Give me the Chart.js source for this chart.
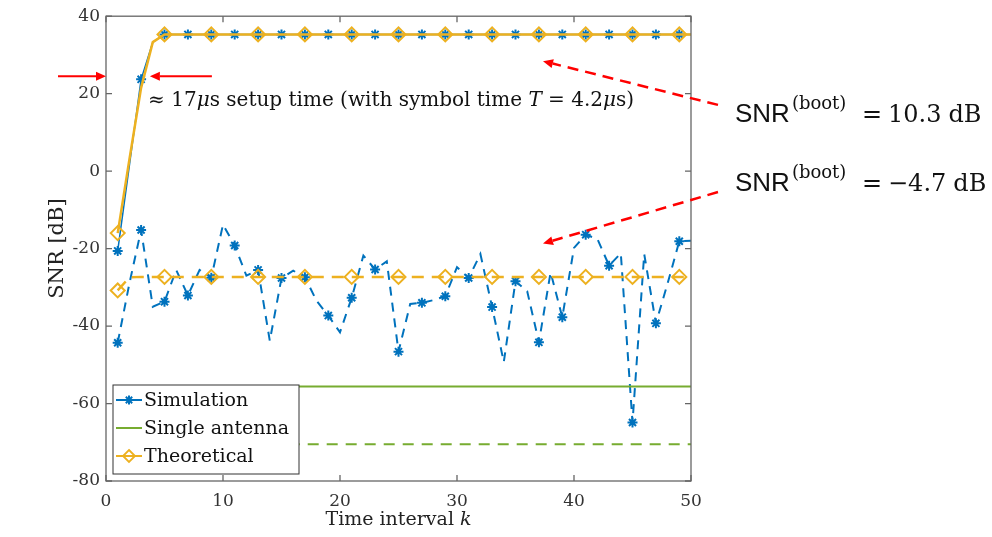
<!DOCTYPE html>
<html>
<head>
<meta charset="utf-8">
<script src="https://cdn.jsdelivr.net/npm/chart.js@4.4.1/dist/chart.umd.min.js"></script>
<style>
  html, body { margin: 0; padding: 0; background: #fff; }
</style>
</head>
<body>
<canvas id="snrChart" width="992" height="537"></canvas>
<script>
// time intervals
var kValues = [1, 2, 3, 4, 5, 6, 7, 8, 9, 10, 11, 12, 13, 14, 15, 16, 17, 18, 19, 20,
  21, 22, 23, 24, 25, 26, 27, 28, 29, 30, 31, 32, 33, 34, 35, 36, 37, 38, 39, 40,
  41, 42, 43, 44, 45, 46, 47, 48, 49, 50];

// SNR(boot) = 10.3 dB
var simHigh = [-20.6, 1.5, 23.7, 33.3, 35.3, 35.3, 35.3, 35.3, 35.3, 35.3,
  35.3, 35.3, 35.3, 35.3, 35.3, 35.3, 35.3, 35.3, 35.3, 35.3,
  35.3, 35.3, 35.3, 35.3, 35.3, 35.3, 35.3, 35.3, 35.3, 35.3,
  35.3, 35.3, 35.3, 35.3, 35.3, 35.3, 35.3, 35.3, 35.3, 35.3,
  35.3, 35.3, 35.3, 35.3, 35.3, 35.3, 35.3, 35.3, 35.3, 35.3];
var theoHigh = [-16, 3, 21.5, 33.3, 35.3, 35.3, 35.3, 35.3, 35.3, 35.3,
  35.3, 35.3, 35.3, 35.3, 35.3, 35.3, 35.3, 35.3, 35.3, 35.3,
  35.3, 35.3, 35.3, 35.3, 35.3, 35.3, 35.3, 35.3, 35.3, 35.3,
  35.3, 35.3, 35.3, 35.3, 35.3, 35.3, 35.3, 35.3, 35.3, 35.3,
  35.3, 35.3, 35.3, 35.3, 35.3, 35.3, 35.3, 35.3, 35.3, 35.3];

// SNR(boot) = -4.7 dB
var simLow = [-44.3, -29, -15.2, -35, -33.7, -25.5, -32.1, -25.5, -27.5, -13.8,
  -19.2, -27, -25.5, -43.8, -27.6, -25.7, -27.4, -33.5, -37.3, -41.6,
  -32.7, -21.8, -25.4, -23.3, -46.6, -34.3, -34, -33.3, -32.3, -24.8,
  -27.6, -21.4, -35.1, -49.3, -28.4, -31, -44.2, -26.1, -37.7, -19.8,
  -16.4, -17.5, -24.4, -21.2, -64.9, -21.4, -39.3, -29, -18.1, -18];
var theoLow = [-30.8, -27.4, -27.3, -27.3, -27.3, -27.3, -27.3, -27.3, -27.3, -27.3,
  -27.3, -27.3, -27.3, -27.3, -27.3, -27.3, -27.3, -27.3, -27.3, -27.3,
  -27.3, -27.3, -27.3, -27.3, -27.3, -27.3, -27.3, -27.3, -27.3, -27.3,
  -27.3, -27.3, -27.3, -27.3, -27.3, -27.3, -27.3, -27.3, -27.3, -27.3,
  -27.3, -27.3, -27.3, -27.3, -27.3, -27.3, -27.3, -27.3, -27.3, -27.3];

// single antenna levels
var singleK = [1, 50];
var singleHigh = [-55.6, -55.6];
var singleLow = [-70.5, -70.5];

var xTicks = [0, 10, 20, 30, 40, 50];
var yTicks = [-80, -60, -40, -20, 0, 20, 40];

var BLUE = '#0072BD', YELLOW = '#EDB120', GREEN = '#77AC30', RED = '#FF0000';
var SERIF = '"DejaVu Serif", serif';

function pts(xs, ys) {
  return xs.map(function (x, i) { return { x: x, y: ys[i] }; });
}
function oddMarks(ctx) { return ctx.raw && ctx.raw.x % 2 === 1 ? 5 : 0; }
function everyFourth(ctx) { return ctx.raw && (ctx.raw.x - 1) % 4 === 0 ? 7 : 0; }

// box + inward ticks like matlab
var framePlugin = {
  id: 'frame',
  afterDatasetsDraw: function (chart) {
    var c = chart.ctx, a = chart.chartArea, xs = chart.scales.x, ys = chart.scales.y;
    c.save();
    c.strokeStyle = '#666';
    c.lineWidth = 1.3;
    c.strokeRect(a.left, a.top, a.right - a.left, a.bottom - a.top);
    c.beginPath();
    xTicks.forEach(function (v) {
      var px = xs.getPixelForValue(v);
      c.moveTo(px, a.bottom); c.lineTo(px, a.bottom - 6);
      c.moveTo(px, a.top); c.lineTo(px, a.top + 6);
    });
    yTicks.forEach(function (v) {
      var py = ys.getPixelForValue(v);
      c.moveTo(a.left, py); c.lineTo(a.left + 6, py);
      c.moveTo(a.right, py); c.lineTo(a.right - 6, py);
    });
    c.stroke();
    c.restore();
  }
};

function star(c, x, y, r) {
  c.beginPath();
  for (var i = 0; i < 4; i++) {
    var ang = i * Math.PI / 4;
    c.moveTo(x - r * Math.cos(ang), y - r * Math.sin(ang));
    c.lineTo(x + r * Math.cos(ang), y + r * Math.sin(ang));
  }
  c.stroke();
}
function diamond(c, x, y, r) {
  c.beginPath();
  c.moveTo(x, y - r); c.lineTo(x + r, y); c.lineTo(x, y + r); c.lineTo(x - r, y);
  c.closePath();
  c.stroke();
}

var legendPlugin = {
  id: 'boxLegend',
  afterDraw: function (chart) {
    var c = chart.ctx, a = chart.chartArea;
    var bx = a.left + 7, by = a.bottom - 96, bw = 186, bh = 89;
    c.save();
    c.fillStyle = '#fff';
    c.fillRect(bx, by, bw, bh);
    c.strokeStyle = '#333';
    c.lineWidth = 1;
    c.strokeRect(bx, by, bw, bh);
    var items = [
      { text: 'Simulation', color: BLUE, mark: 'star' },
      { text: 'Single antenna', color: GREEN, mark: null },
      { text: 'Theoretical', color: YELLOW, mark: 'diamond' }
    ];
    items.forEach(function (it, i) {
      var y = by + 15 + i * 28;
      c.strokeStyle = it.color;
      c.lineWidth = 2;
      c.beginPath(); c.moveTo(bx + 3, y); c.lineTo(bx + 29, y); c.stroke();
      if (it.mark === 'star') star(c, bx + 16, y, 4.5);
      if (it.mark === 'diamond') { c.lineWidth = 1.8; diamond(c, bx + 16, y, 6); }
      c.fillStyle = '#111';
      c.font = '19px ' + SERIF;
      c.textBaseline = 'middle';
      c.fillText(it.text, bx + 31, y + 1);
    });
    c.restore();
  }
};

function arrow(c, x1, y1, x2, y2, dashed) {
  var ang = Math.atan2(y2 - y1, x2 - x1), L = 10, W = 4.5;
  c.save();
  c.strokeStyle = RED; c.fillStyle = RED;
  c.lineWidth = dashed ? 2.5 : 2;
  if (dashed) c.setLineDash([11, 7]);
  c.beginPath();
  c.moveTo(x1, y1);
  c.lineTo(x2 - L * Math.cos(ang), y2 - L * Math.sin(ang));
  c.stroke();
  c.setLineDash([]);
  c.beginPath();
  c.moveTo(x2, y2);
  c.lineTo(x2 - L * Math.cos(ang) - W * Math.sin(ang), y2 - L * Math.sin(ang) + W * Math.cos(ang));
  c.lineTo(x2 - L * Math.cos(ang) + W * Math.sin(ang), y2 - L * Math.sin(ang) - W * Math.cos(ang));
  c.closePath();
  c.fill();
  c.restore();
}

function runs(c, x, y, parts) {
  parts.forEach(function (p) {
    c.font = p.f;
    c.fillText(p.t, x + (p.dx || 0), y - (p.up || 0));
    x += (p.dx || 0) + c.measureText(p.t).width;
  });
  return x;
}
function runsWidth(c, parts) {
  var w = 0;
  parts.forEach(function (p) { c.font = p.f; w += c.measureText(p.t).width; });
  return w;
}

var notePlugin = {
  id: 'notes',
  afterDraw: function (chart) {
    var c = chart.ctx, a = chart.chartArea, xs = chart.scales.x, ys = chart.scales.y;
    var ay = ys.getPixelForValue(24.5);
    arrow(c, a.left - 48, ay, a.left, ay, false);
    arrow(c, xs.getPixelForValue(9.05), ay, xs.getPixelForValue(3.75), ay, false);
    arrow(c, a.right + 27, ys.getPixelForValue(17.1), xs.getPixelForValue(37.35), ys.getPixelForValue(28.4), true);
    arrow(c, a.right + 27, ys.getPixelForValue(-5.4), xs.getPixelForValue(37.35), ys.getPixelForValue(-18.7), true);

    c.save();
    c.fillStyle = '#111';
    c.textBaseline = 'alphabetic';
    var f = '20px ' + SERIF, fi = 'italic 20px ' + SERIF;
    runs(c, xs.getPixelForValue(3.6), ys.getPixelForValue(16.8), [
      { t: '\u2248 17', f: f }, { t: '\u03bc', f: fi }, { t: 's setup time (with symbol time ', f: f },
      { t: 'T', f: fi }, { t: ' = 4.2', f: f }, { t: '\u03bc', f: fi }, { t: 's)', f: f }
    ]);

    var big = '24px ' + SERIF, sans = '26px "Liberation Sans", sans-serif', sup = '18px ' + SERIF;
    [['10.3', 122], ['\u22124.7', 191]].forEach(function (r) {
      runs(c, a.right + 44, r[1], [
        { t: 'SNR', f: sans }, { t: '(boot)', f: sup, dx: 2, up: 13 }
      ]);
      runs(c, a.right + 171, r[1], [{ t: '=', f: big }]);
      var x = runs(c, a.right + 197, r[1], [{ t: r[0], f: big }]);
      runs(c, x + 7, r[1], [{ t: 'dB', f: big }]);
    });

    // x axis title with italic k
    c.fillStyle = '#222';
    var tParts = [{ t: 'Time interval ', f: '19px ' + SERIF }, { t: 'k', f: 'italic 19px ' + SERIF }];
    var tw = runsWidth(c, tParts);
    runs(c, (a.left + a.right) / 2 - tw / 2, a.bottom + 44, tParts);
    c.restore();
  }
};

var ctx = document.getElementById('snrChart').getContext('2d');
var snrChart = new Chart(ctx, {
  type: 'line',
  data: {
    datasets: [
      {
        label: 'Theoretical',
        data: pts(kValues, theoHigh),
        borderColor: YELLOW, borderWidth: 2.5,
        pointStyle: 'rectRot', pointRadius: everyFourth,
        pointBorderColor: YELLOW, pointBackgroundColor: 'rgba(0,0,0,0)', pointBorderWidth: 2,
        order: 0
      },
      {
        label: 'Theoretical low',
        data: pts(kValues, theoLow),
        borderColor: YELLOW, borderWidth: 2.5, borderDash: [12, 8],
        pointStyle: 'rectRot', pointRadius: everyFourth,
        pointBorderColor: YELLOW, pointBackgroundColor: 'rgba(0,0,0,0)', pointBorderWidth: 2,
        order: 1
      },
      {
        label: 'Single antenna',
        data: pts(singleK, singleHigh),
        borderColor: GREEN, borderWidth: 2, pointRadius: 0,
        order: 2
      },
      {
        label: 'Single antenna low',
        data: pts(singleK, singleLow),
        borderColor: GREEN, borderWidth: 2, borderDash: [11, 8], pointRadius: 0,
        order: 2
      },
      {
        label: 'Simulation',
        data: pts(kValues, simHigh),
        borderColor: BLUE, borderWidth: 1.5,
        pointStyle: 'star', pointRadius: oddMarks,
        pointBorderColor: BLUE, pointBorderWidth: 2,
        order: 3
      },
      {
        label: 'Simulation low',
        data: pts(kValues, simLow),
        borderColor: BLUE, borderWidth: 2, borderDash: [9, 7],
        pointStyle: 'star', pointRadius: oddMarks,
        pointBorderColor: BLUE, pointBorderWidth: 2,
        order: 4
      }
    ]
  },
  options: {
    responsive: false,
    animation: false,
    layout: { padding: { top: 15, right: 301, left: 0, bottom: 0 } },
    plugins: { legend: { display: false }, tooltip: { enabled: false } },
    elements: { line: { tension: 0 }, point: { hoverRadius: 0 } },
    scales: {
      x: {
        type: 'linear', min: 0, max: 50,
        afterBuildTicks: function (s) { s.ticks = xTicks.map(function (v) { return { value: v }; }); },
        afterFit: function (s) { s.height = 56; },
        grid: { display: false, drawTicks: false },
        border: { display: false },
        ticks: { color: '#333', padding: 10, font: { family: SERIF, size: 17 } },
        title: { display: false }
      },
      y: {
        type: 'linear', min: -80, max: 40,
        afterBuildTicks: function (s) { s.ticks = yTicks.map(function (v) { return { value: v }; }); },
        afterFit: function (s) { s.width = 106; },
        grid: { display: false, drawTicks: false },
        border: { display: false },
        ticks: { color: '#333', padding: 6, font: { family: SERIF, size: 17 } },
        title: { display: true, text: 'SNR [dB]', color: '#222',
          font: { family: SERIF, size: 21 }, padding: { top: 45, bottom: 0 } }
      }
    }
  },
  plugins: [framePlugin, legendPlugin, notePlugin]
});
</script>
</body>
</html>
